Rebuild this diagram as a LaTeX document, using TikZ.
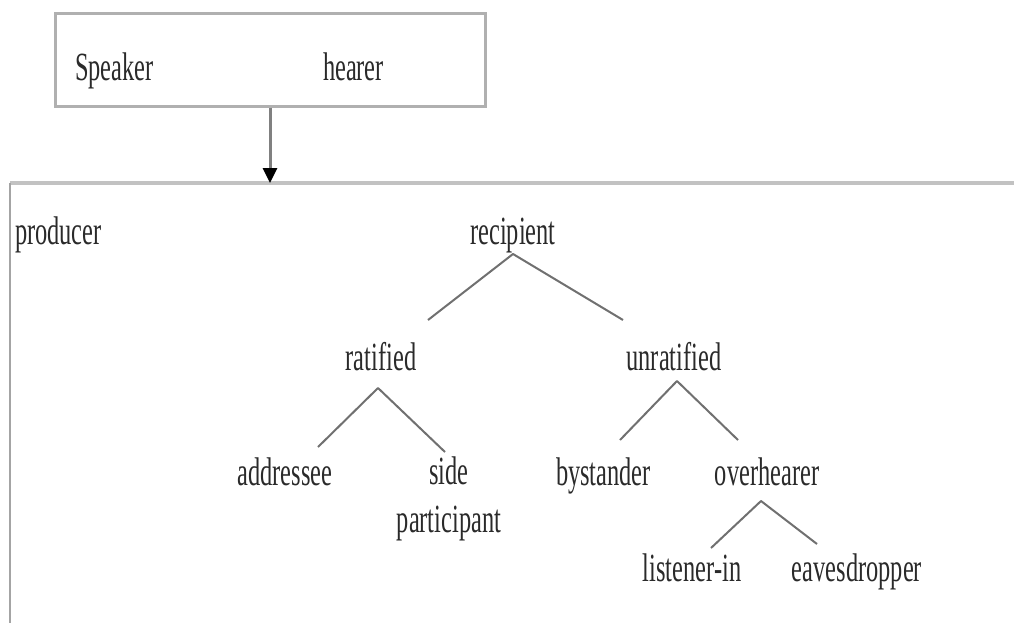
\documentclass[tikz,border=0pt]{standalone}
\usepackage{fontspec}
\setmainfont{Liberation Serif}[FakeStretch=0.61]
\usetikzlibrary{arrows.meta,calc}
\definecolor{ink}{HTML}{2A2A2A}
\definecolor{boxgray}{HTML}{B0B0B0}
\definecolor{framegray}{HTML}{C2C2C2}
\definecolor{edgegray}{HTML}{A4A4A4}
\definecolor{branchgray}{HTML}{707070}
\definecolor{shaftgray}{HTML}{808080}
\begin{document}
\begin{tikzpicture}[x=1pt,y=-1pt,
  word/.style={font=\fontsize{40}{48}\selectfont, text=ink, inner sep=0pt, outer sep=0pt, anchor=base},
  branch/.style={draw=branchgray, line width=2pt, line join=round},
  roles/.style={draw=boxgray, line width=3pt, inner sep=0pt},
  feed/.style={draw=shaftgray, line width=3pt,
    -{Triangle[length=15pt,width=14pt,color=black,fill=black]}}]
\useasboundingbox (0,0) rectangle (1014,622);

% speaker / hearer box
\node[roles, minimum width=430pt, minimum height=93pt] (sh) at (270,59.5) {};
\node[word, anchor=base west] (speaker) at (75,80) {Speaker};
\node[word, anchor=base west] (hearer) at (323,80) {hearer};

% open frame of the participation roles
\node[draw=none, minimum width=1040pt, minimum height=480pt, anchor=north west, inner sep=0pt] (field) at (10,183) {};
\draw[framegray, line width=3.5pt] (field.north west) -- (field.north east);
\draw[edgegray, line width=2pt] (field.north west) -- (field.south west);

\draw[feed] (sh.south) -- (sh.south |- field.north);

% role labels
\node[word, anchor=base west] (producer) at (15,244) {producer};
\node[word] (recipient) at (513,244) {recipient};
\node[word] (ratified) at (381,370) {ratified};
\node[word] (unratified) at (674,370) {unratified};
\node[word] (addressee) at (285,485) {addressee};
\node[word, align=center, anchor=north] (side) at (449,457) {side\\participant};
\node[word] (bystander) at (603.5,485) {bystander};
\node[word] (overhearer) at (767,485) {overhearer};
\node[word] (listener) at (692,581) {listener-in};
\node[word] (eaves) at (857,581) {eavesdropper};

% tree branches
\draw[branch] ($(ratified.base)+(47,-50)$) -- ($(recipient.base)+(0,10)$) -- ($(unratified.base)+(-51,-50)$);
\draw[branch] ($(addressee.base)+(33,-38)$) -- ($(ratified.base)+(-3,18)$) -- ($(side.north)+(-4,-5)$);
\draw[branch] ($(bystander.base)+(16.5,-45)$) -- ($(unratified.base)+(3,11)$) -- ($(overhearer.base)+(-29,-45)$);
\draw[branch] ($(listener.base)+(19,-33)$) -- ($(overhearer.base)+(-6,16)$) -- ($(eaves.base)+(-40,-37)$);
\end{tikzpicture}
\end{document}
